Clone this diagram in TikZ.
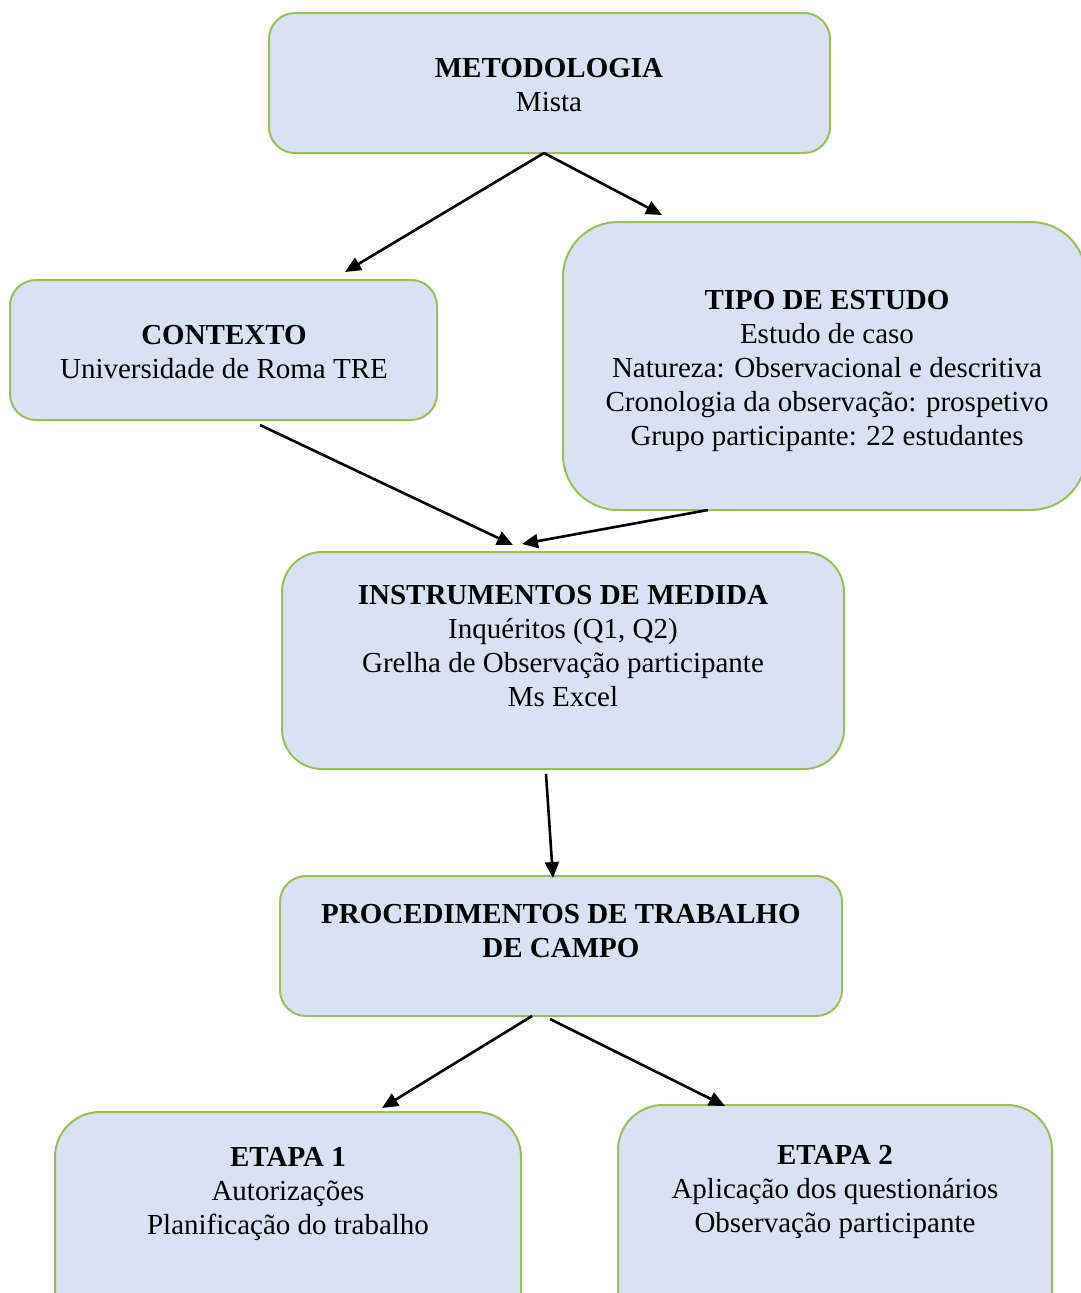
\documentclass[tikz,border=0pt]{standalone}
\usepackage{fontspec}
\setmainfont{Liberation Serif}
\usetikzlibrary{arrows.meta}
\definecolor{boxfill}{RGB}{217,226,243}
\definecolor{boxline}{RGB}{155,190,90}
\tikzset{
  panel/.style={draw=boxline, line width=2pt, fill=boxfill, rounded corners=#1},
  panel/.default=26pt,
  label/.style={align=center, inner sep=0pt, font=\fontsize{29}{34}\selectfont},
  link/.style={line width=2.6pt, -{Triangle[length=16pt,width=14pt]}},
}
\begin{document}
\begin{tikzpicture}[x=1pt,y=-1pt]
\useasboundingbox (0,0) rectangle (1080,1293);

% boxes
\draw[panel] (269,13) rectangle (830,153);
\draw[panel] (10,280) rectangle (437,420);
\draw[panel=55pt] (563,222) rectangle (1086,510);
\draw[panel=40pt] (282,552) rectangle (844,769);
\draw[panel] (280,876) rectangle (842,1016);
\draw[panel=45pt] (55,1112) rectangle (521,1340);
\draw[panel=45pt] (618,1105) rectangle (1052,1340);

% texts
\node[label] (meto) at (549,85) {\textbf{METODOLOGIA}\\Mista};
\node[label] (cont) at (224,352) {\textbf{CONTEXTO}\\Universidade de Roma TRE};
\node[label] (tipo) at (827,371) {\textbf{TIPO DE ESTUDO}\\Estudo de caso\\Natureza: Observacional e descritiva\\Cronologia da observação: prospetivo\\Grupo participante: 22 estudantes};
\node[label] (inst) at (563,646) {\textbf{INSTRUMENTOS DE MEDIDA}\\Inquéritos (Q1, Q2)\\Grelha de Observação participante\\Ms Excel};
\node[label] (proc) at (561,931) {\textbf{PROCEDIMENTOS DE TRABALHO}\\\textbf{DE CAMPO}};
\node[label] (et1) at (288,1194) {\textbf{ETAPA 1}\\Autorizações\\Planificação do trabalho};
\node[label] (et2) at (835,1192) {\textbf{ETAPA 2}\\Aplicação dos questionários\\Observação participante};

% connector end points
\coordinate (m0) at (544,153);
\coordinate (c1) at (345,272);
\coordinate (t1) at (662,215);
\coordinate (c0) at (260,425);
\coordinate (t0) at (708,510);
\coordinate (i1a) at (513,545);
\coordinate (i1b) at (522,544);
\coordinate (i0) at (546,774);
\coordinate (p1) at (553,878);
\coordinate (p0a) at (532,1016);
\coordinate (p0b) at (550,1019);
\coordinate (e1) at (382,1108);
\coordinate (e2) at (725,1106);

% connectors
\draw[link] (m0) -- (c1);
\draw[link] (m0) -- (t1);
\draw[link] (c0) -- (i1a);
\draw[link] (t0) -- (i1b);
\draw[link] (i0) -- (p1);
\draw[link] (p0a) -- (e1);
\draw[link] (p0b) -- (e2);
\end{tikzpicture}
\end{document}
